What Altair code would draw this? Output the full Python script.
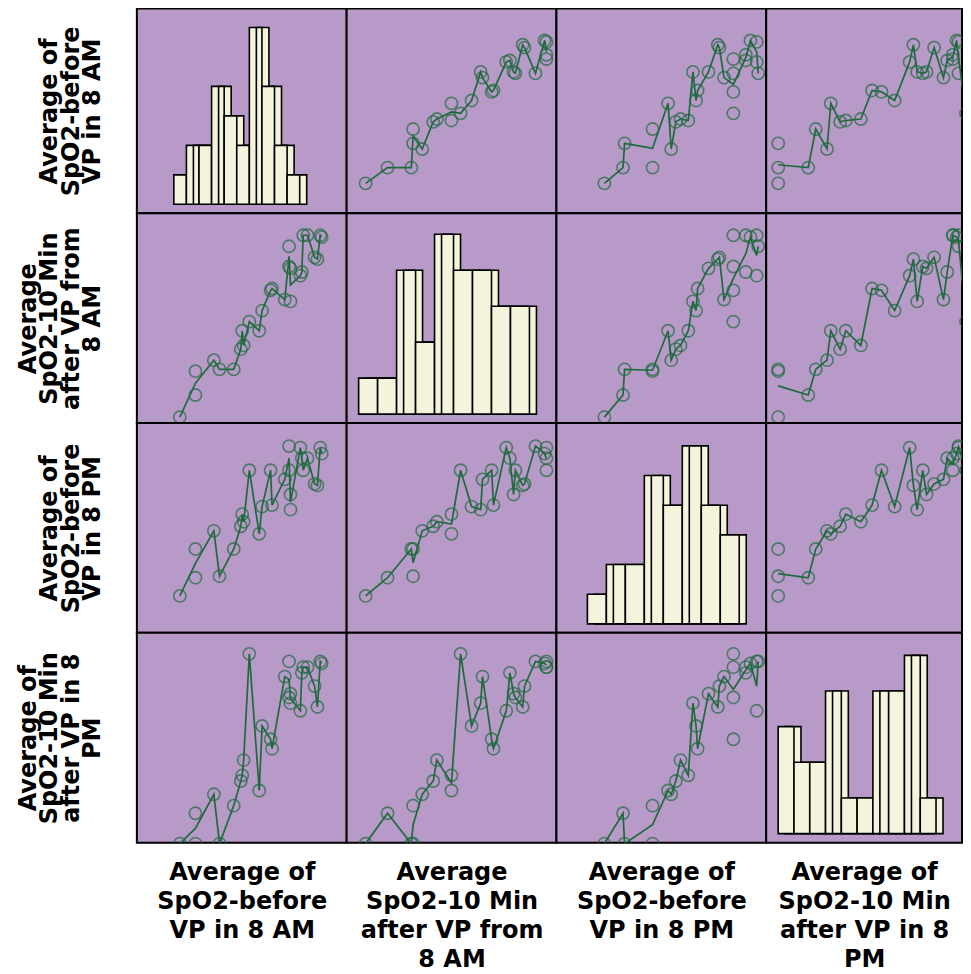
import altair as alt
import pandas as pd

# ---- data ----
V1 = [88.0, 89.1, 89.1, 90.4, 90.8, 91.8, 92.3, 92.4, 92.5, 92.9, 93.6, 93.8, 94.5, 94.4,
      95.4, 95.8, 95.8, 95.7, 95.7, 96.5, 96.7, 96.6, 97.0, 97.5, 97.7, 97.9, 98.0]
V2 = [88.1, 89.3, 90.6, 91.2, 90.7, 90.7, 91.8, 92.8, 92.0, 93.3, 92.8, 93.9, 95.1, 95.0,
      94.5, 94.4, 96.2, 96.3, 97.4, 95.8, 98.0, 96.0, 98.0, 96.8, 96.7, 98.0, 97.9]
V3 = [88.1, 89.3, 91.2, 92.4, 89.4, 91.2, 92.7, 93.5, 93.0, 96.4, 92.2, 94.0, 94.1, 96.4,
      95.8, 93.8, 94.8, 96.4, 98.0, 97.9, 96.4, 97.2, 97.2, 95.5, 95.4, 97.9, 97.5]
V4 = [88.0, 89.6, 88.0, 90.6, 88.0, 90.0, 91.3, 91.6, 92.4, 98.0, 90.8, 94.2, 93.0, 93.5,
      96.8, 95.4, 95.9, 95.7, 97.6, 95.0, 97.3, 97.0, 97.3, 96.3, 95.2, 97.6, 97.5]

H1 = [1, 2, 2, 4, 3, 2, 6, 4, 2, 1]
H2 = [1, 1, 4, 2, 5, 4, 4, 3, 3]
H3 = [1, 2, 2, 5, 4, 6, 4, 3]
H4 = [3, 2, 2, 4, 1, 1, 4, 4, 5, 1]

LABELS = [
    ["Average of", "SpO2-before", "VP in 8 AM"],
    ["Average", "SpO2-10 Min", "after VP from", "8 AM"],
    ["Average of", "SpO2-before", "VP in 8 PM"],
    ["Average of", "SpO2-10 Min", "after VP in 8", "PM"],
]

FIELDS = ["v1", "v2", "v3", "v4"]
VALS = [V1, V2, V3, V4]
HISTS = [H1, H2, H3, H4]
df = pd.DataFrame({"v1": V1, "v2": V2, "v3": V3, "v4": V4})

# ---- layout / style ----
BG = "#b89ac8"
BAR = "#f4f4dc"
GREEN = "#1d6b3c"
FONT = "DejaVu Sans"

COLW = [210, 210, 210, 196]
ROWH = [205, 210, 210, 210]
ROWCUT = [5, 0, 0, 0]
XEXT = [(43, 185), (19, 200), (48, 202), (12, 200)]
YEXT = [(180, 37), (204, 22), (173, 23), (211, 21)]
# histogram geometry: left px, bin width px, px per count
HGEO = [(37, 12.6, 29.5), (12, 19.0, 36.0), (31, 19.0, 29.7), (12, 15.8, 35.7)]
HBASE = 201
DEPTH = 7


def xdom(c):
    v = VALS[c]
    a, b = XEXT[c]
    k = (max(v) - min(v)) / (b - a)
    return [min(v) - a * k, min(v) + (COLW[c] - a) * k]


def ydom(r):
    v = VALS[r]
    t0, t1 = YEXT[r]
    k = (max(v) - min(v)) / (t0 - t1)
    return [min(v) - (210 - t0) * k, min(v) + (t0 - ROWCUT[r]) * k]


def xaxis(c):
    return alt.Axis(title=LABELS[c], labels=False, ticks=False, domain=False, grid=False,
                    titleFont=FONT, titleFontSize=24, titleFontWeight="bold",
                    titleLineHeight=29, titlePadding=18, titleColor="black")


def yaxis(r):
    return alt.Axis(title=LABELS[r], labels=False, ticks=False, domain=False, grid=False,
                    titleFont=FONT, titleFontSize=24, titleFontWeight="bold",
                    titleLineHeight=21.5, titlePadding=32, titleColor="black")


def scatter(r, c):
    xf, yf = FIELDS[c], FIELDS[r]
    xs = alt.Scale(domain=xdom(c), nice=False, zero=False)
    ys = alt.Scale(domain=ydom(r), nice=False, zero=False)
    xax = xaxis(c) if r == 3 else None
    yax = yaxis(r) if c == 0 else None
    mean_name = f"mean_{yf}_by_{xf}"
    # interpolation line through the mean of y at each distinct x
    line = alt.Chart(df).transform_aggregate(
        **{mean_name: f"mean({yf})"}, groupby=[xf]
    ).mark_line(color=GREEN, strokeWidth=1.7, clip=True).encode(
        x=alt.X(xf, type="quantitative", scale=xs, axis=xax),
        y=alt.Y(mean_name, type="quantitative", scale=ys, axis=yax),
    )
    pts = alt.Chart(df).mark_point(shape="circle", filled=False, size=150, strokeWidth=1.6,
                                   color=GREEN, clip=True).encode(
        x=alt.X(xf, type="quantitative", scale=xs, axis=xax),
        y=alt.Y(yf, type="quantitative", scale=ys, axis=yax),
    )
    return alt.layer(line, pts).properties(width=COLW[c], height=ROWH[r])


def hist(i):
    counts = HISTS[i]
    n = len(counts)
    left, bw, u = HGEO[i]
    off = DEPTH / bw
    hd = pd.DataFrame({
        "b": list(range(n)),
        "b2": [k + 1 for k in range(n)],
        "bb": [k + off for k in range(n)],
        "bb2": [k + 1 + off for k in range(n)],
        "cnt": counts,
        "zero": [0] * n,
    })
    rd = hd[[k > 0 and counts[k] > counts[k - 1] for k in range(n)]]
    xs = alt.Scale(domain=[-left / bw, (COLW[i] - left) / bw], nice=False, zero=False)
    ys = alt.Scale(domain=[(HBASE - 210) / u, (HBASE - ROWCUT[i]) / u], nice=False, zero=False)
    xax = xaxis(i) if i == 3 else None
    yax = yaxis(i) if i == 0 else None
    back = alt.Chart(hd).mark_rect(fill=BAR, stroke="black", strokeWidth=1.6).encode(
        x=alt.X("bb:Q", scale=xs, axis=xax), x2="bb2:Q",
        y=alt.Y("cnt:Q", scale=ys, axis=yax), y2="zero:Q")
    front = alt.Chart(hd).mark_rect(fill=BAR, stroke="black", strokeWidth=1.6).encode(
        x=alt.X("b:Q", scale=xs, axis=xax), x2="b2:Q",
        y=alt.Y("cnt:Q", scale=ys, axis=yax), y2="zero:Q")
    rules = alt.Chart(rd).mark_rule(color="black", strokeWidth=1.6).encode(
        x=alt.X("bb:Q", scale=xs, axis=xax),
        y=alt.Y("cnt:Q", scale=ys, axis=yax), y2="zero:Q")
    return alt.layer(back, front, rules).properties(width=COLW[i], height=ROWH[i])


panels = []
for r in range(4):
    for c in range(4):
        panels.append(hist(r) if r == c else scatter(r, c))

chart = alt.concat(*panels, columns=4, spacing=0, bounds="flush", align="each").properties(
    padding={"left": 7, "top": -1, "right": 0, "bottom": 0}
).configure_view(
    fill=BG, stroke="black", strokeWidth=2
)

chart.save("out.html", embed_options={"renderer": "svg", "actions": False})
